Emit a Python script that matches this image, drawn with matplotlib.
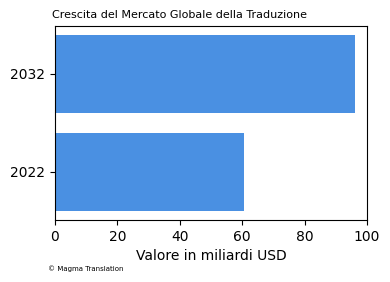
import matplotlib
matplotlib.use("Agg")
import matplotlib.pyplot as plt

# Data
years = ["2022", "2032"]
values = [60.6, 96.0]

fig = plt.figure(figsize=(3.9, 2.82), dpi=100)
ax = fig.add_axes([0.141, 0.22, 0.8, 0.688])

ax.barh(years, values, color="#4a90e2", height=0.8)
ax.set_xlim(0, 100)
ax.set_xlabel("Valore in miliardi USD", fontsize=10)
ax.tick_params(labelsize=10)

fig.text(0.133, 0.948, "Crescita del Mercato Globale della Traduzione", fontsize=8, va="center")
fig.text(0.123, 0.047, "© Magma Translation", fontsize=5, va="center")

fig.savefig("out.png", dpi=100)
